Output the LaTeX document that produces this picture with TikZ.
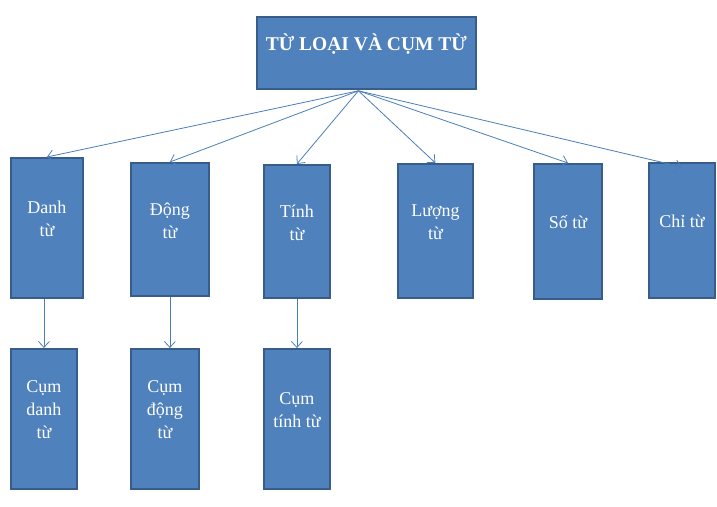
\documentclass[tikz,border=0pt]{standalone}
\usepackage{fontspec}
\setmainfont{Liberation Serif}
\usepackage{tikz}
\usetikzlibrary{arrows.meta, positioning, calc}

\definecolor{boxblue}{HTML}{4F81BD}
\definecolor{boxline}{HTML}{385D8A}
\definecolor{arrowblue}{HTML}{4A7EBB}

\begin{document}
\begin{tikzpicture}[
      x=1pt, y=-1pt,
      font=\fontsize{18}{23}\selectfont,
      base/.style = {draw=boxline, line width=1.8pt, fill=boxblue, text=white, rectangle, anchor=north west, align=center, inner sep=0pt},
      % --- Kieu khung ---
      topbox/.style = {base, minimum width=219pt, minimum height=72pt, font=\fontsize{19.5}{23}\selectfont\bfseries, text depth=22pt},
      wordbox/.style = {base, minimum height=135pt, text depth=18pt},
      arrow/.style = {draw=arrowblue, line width=0.8pt, -{Straight Barb[length=6pt, width=11pt, line width=0.8pt]}}
    ]
      \useasboundingbox (0,0) rectangle (717,506);

      % --- GOC ---
      \node [topbox] (root) at (256,16) {TỪ LOẠI VÀ CỤM TỪ};
      \coordinate (hub) at ($(root.south)+(-8,1)$);

      % --- TU LOAI ---
      \node [wordbox, minimum width=72pt, minimum height=140pt] (danh) at (10,157) {Danh\\từ};
      \node [wordbox, minimum width=78pt, minimum height=133pt] (dong) at (130,162) {Động\\từ};
      \node [wordbox, minimum width=66pt, minimum height=133pt] (tinh) at (263,164) {Tính\\từ};
      \node [wordbox, minimum width=75pt, minimum height=134pt] (luong) at (397,163) {Lượng\\từ};
      \node [wordbox, minimum width=68pt] (so) at (533,163) {Số từ};
      \node [wordbox, minimum width=66pt] (chi) at (648,162) {Chỉ từ};

      % --- CUM TU ---
      \node [wordbox, minimum width=66pt, minimum height=140pt] (cumdanh) at (10,348) {Cụm\\danh\\từ};
      \node [wordbox, minimum width=68pt, minimum height=140pt] (cumdong) at (130,348) {Cụm\\động\\từ};
      \node [wordbox, minimum width=66pt, minimum height=140pt] (cumtinh) at (263,348) {Cụm\\tính từ};

      % Ket noi
      \foreach \n in {danh, dong, tinh, luong, so}
        \draw [arrow] (hub) -- (\n.north);
      \draw [arrow] (hub) -- ([yshift=-5pt]chi.north);

      \draw [arrow] (cumdanh.north |- danh.south) -- (cumdanh.north);
      \draw [arrow] (dong.south) -- (dong.south |- cumdong.north);
      \draw [arrow] (tinh.south) -- (tinh.south |- cumtinh.north);

    \end{tikzpicture}
\end{document}
